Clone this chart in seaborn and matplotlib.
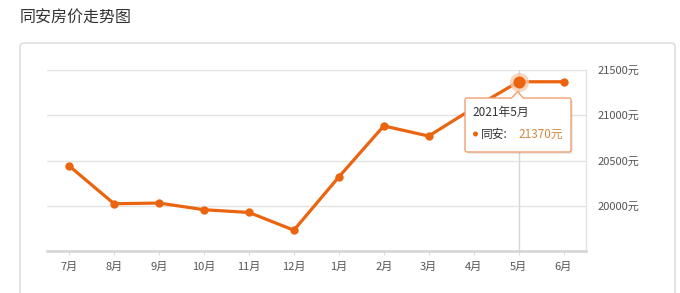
import matplotlib
matplotlib.use("Agg")
import matplotlib.pyplot as plt
import seaborn as sns
import pandas as pd
from matplotlib.patches import FancyBboxPatch, Rectangle, Polygon, Ellipse

months = ["7月", "8月", "9月", "10月", "11月", "12月", "1月", "2月", "3月", "4月", "5月", "6月"]
prices = [20440, 20022, 20030, 19956, 19926, 19730, 20318, 20882, 20770, 21080, 21370, 21370]
y_ticks = [20000, 20500, 21000, 21500]
title = "同安房价走势图"
series_name = "同安"
hover_label = "2021年5月"
hover_index = 10

sns.set_theme(style="white")
plt.rcParams['font.family'] = ['Noto Sans CJK SC', 'DejaVu Sans']

df = pd.DataFrame({"month": months, "price": prices, "pos": range(len(months))})

fig = plt.figure(figsize=(6.8, 2.93), dpi=100)
W, H = 680, 293
ax = fig.add_axes([46.7 / W, 1 - 251 / H, (586 - 46.7) / W, (251 - 70) / H])

# overlay axes in pixel coords (y down)
ov = fig.add_axes([0, 0, 1, 1], zorder=10)
ov.set_xlim(0, W)
ov.set_ylim(H, 0)
ov.axis("off")
ov.patch.set_alpha(0)

bg = fig.add_axes([0, 0, 1, 1], zorder=-1)
bg.set_xlim(0, W)
bg.set_ylim(H, 0)
bg.axis("off")
bg.add_patch(FancyBboxPatch((20, 43), 655, 300, boxstyle="round,pad=0,rounding_size=4",
                            fill=False, edgecolor="#d9d9d9", linewidth=1.0))
bg.text(20, 18, title, fontsize=11.5, color="#333333", va="center", ha="left")
ax.set_zorder(1)
ax.patch.set_alpha(0)

orange = "#EB6410"
ax.axvline(hover_index, color="#d6d6d6", linewidth=1, zorder=1)

sns.lineplot(data=df, x="pos", y="price", ax=ax, color=orange, linewidth=2.3,
             marker="o", markersize=6, markeredgewidth=0, zorder=3)
ax.scatter([df.pos[hover_index]], [df.price[hover_index]], s=190, color="#F7C9A8",
           alpha=0.75, zorder=4, linewidths=0)
ax.scatter([df.pos[hover_index]], [df.price[hover_index]], s=75, color=orange, zorder=5,
           linewidths=0)

ax.set_xlim(-0.5, len(months) - 0.5)
ax.set_ylim(19500, 21500)
ax.set_xticks(df.pos)
ax.set_xticklabels(months)
ax.set_yticks(y_ticks)
ax.yaxis.tick_right()
ax.set_yticklabels([f"{v}元" for v in y_ticks])
ax.set_xlabel("")
ax.set_ylabel("")
ax.grid(axis="y", color="#e3e3e3", linewidth=1)
ax.grid(axis="x", visible=False)
for s in ["left", "top"]:
    ax.spines[s].set_visible(False)
ax.spines["right"].set_color("#e3e3e3")
ax.spines["right"].set_linewidth(1)
ax.spines["bottom"].set_color("#d4d4d4")
ax.spines["bottom"].set_linewidth(1.8)
ax.tick_params(axis="x", labelsize=8, length=3, width=0.8, pad=5,
               bottom=True, color="#dddddd")
ax.tick_params(axis="y", labelsize=8, length=0, pad=8)
for t in ax.get_xticklabels() + ax.get_yticklabels():
    t.set_color("#555555")

# tooltip
x0, y0, x1, y1 = 465, 98, 571, 152
ov.add_patch(FancyBboxPatch((x0 + 2, y0 + 2), x1 - x0, y1 - y0,
                            boxstyle="round,pad=0,rounding_size=2",
                            facecolor="#000000", alpha=0.08, edgecolor="none"))
ov.add_patch(FancyBboxPatch((x0, y0), x1 - x0, y1 - y0,
                            boxstyle="round,pad=0,rounding_size=2",
                            facecolor="white", edgecolor="#F0A070", linewidth=1.0))
cx = 517.5
ov.add_patch(Polygon([(cx - 6, y0 + 0.3), (cx, y0 - 6.5), (cx + 6, y0 + 0.3)], closed=False,
                     facecolor="white", edgecolor="#F0A070", linewidth=1.0))
ov.add_patch(Rectangle((cx - 5.2, y0 - 0.3), 10.4, 1.4, facecolor="white", edgecolor="none"))
ov.text(472, 112, hover_label, fontsize=8.5, color="#333333", va="center", ha="left")
ov.add_patch(Ellipse((475.5, 134), 5, 5, facecolor=orange, edgecolor="none"))
ov.text(481, 134, f"{series_name}:", fontsize=8.5, color="#333333", va="center", ha="left")
ov.text(518, 134, f"{prices[hover_index]}元", fontsize=8.5, color="#D08840", va="center", ha="left")

fig.savefig("out.png", dpi=100, facecolor="white")
